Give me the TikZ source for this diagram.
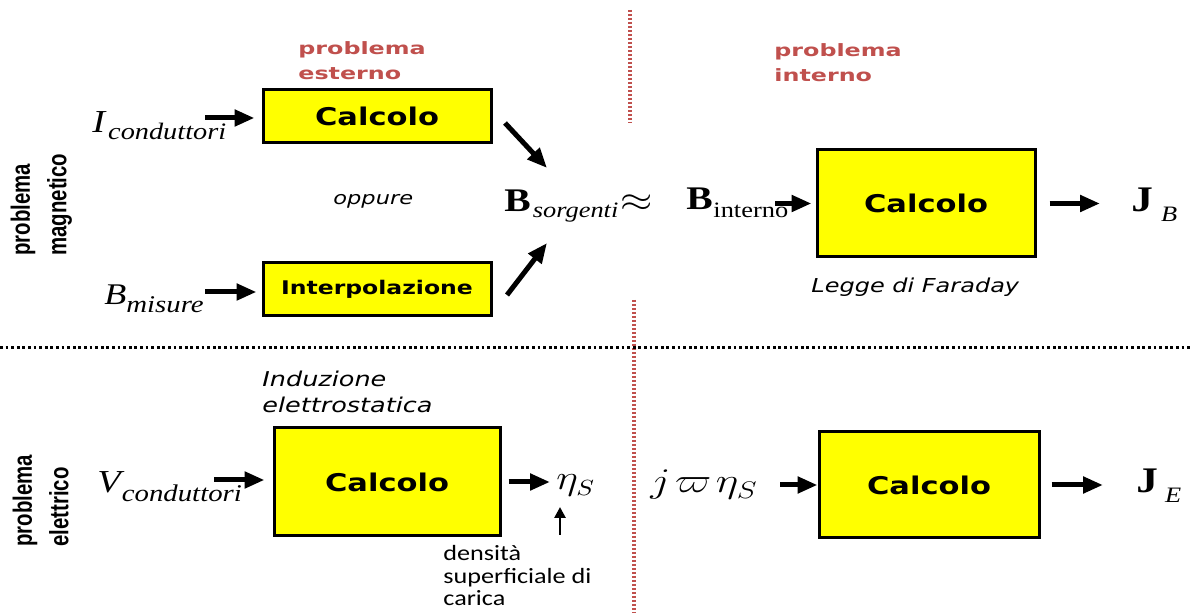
\documentclass[tikz,border=0pt]{standalone}
\usepackage{fontspec}
\usepackage{graphicx}
\newfontfamily\vfont[FakeStretch=1.25]{DejaVu Sans}
\newfontfamily\redfont[FakeStretch=1.4]{DejaVu Sans}
\newfontfamily\tfont[FakeStretch=1.2]{Liberation Serif}
\newfontfamily\cfont[FakeStretch=1.2]{Carlito}
\newfontfamily\nfont{Liberation Sans}
\definecolor{Redcol}{HTML}{C0504D}
\definecolor{Boxcol}{HTML}{FFFF00}
\usetikzlibrary{arrows.meta}
\tikzset{
    >=Stealth,
    box/.style={draw, line width=1.5pt, fill=Boxcol, inner sep=0pt,
        font=\vfont\bfseries\fontsize{12.2}{14}\selectfont},
    fat/.style={line width=2.5pt, -{Triangle[length=10pt,width=8pt]}},
    slim/.style={line width=1.3pt, -{Triangle[length=5.5pt,width=5.5pt]}},
    reddot/.style={Redcol, line width=2.1pt, dash pattern=on 1.1pt off 0.9pt},
    blkdot/.style={black, line width=1.5pt, dash pattern=on 1.4pt off 1.4pt},
    txt/.style={inner sep=0pt, anchor=base west},
    redlbl/.style={inner sep=0pt, anchor=north west, align=left, text=Redcol,
        font=\redfont\bfseries\fontsize{8.5}{12.8}\selectfont},
    sidelbl/.style={inner sep=0pt, anchor=north west, rotate=90,
        font=\nfont\bfseries\fontsize{10.2}{14}\selectfont}
}

\begin{document}
\begin{tikzpicture}[x=0.5pt, y=-0.5pt]
    \useasboundingbox (0,0) rectangle (1192,613);

    % Separators
    \draw[reddot] (630,10) -- (630,123);
    \draw[reddot] (634,300) -- (634,613);
    \draw[blkdot] (0,348) -- (1192,348);

    % Headings
    \node[redlbl] (extlbl) at (298,41) {problema\\esterno};
    \node[redlbl] (intlbl) at (774,43) {problema\\interno};
    \node[sidelbl] (maglbl) at (4,256) {\scalebox{1}[1.3]{\begin{tabular}{@{}l@{}}problema\\magnetico\end{tabular}}};
    \node[sidelbl] (ellbl) at (6,547) {\scalebox{1}[1.3]{\begin{tabular}{@{}l@{}}problema\\elettrico\end{tabular}}};

    % Boxes
    \node[box, minimum width=114pt, minimum height=26.5pt] (calcA) at (377,116.5) {Calcolo};
    \node[box, minimum width=114pt, minimum height=26.5pt,
        font=\vfont\bfseries\fontsize{9.4}{11}\selectfont] (interp) at (377,289.5) {Interpolazione};
    \node[box, minimum width=109pt, minimum height=53.5pt] (calcB) at (926,203.5) {Calcolo};
    \node[box, minimum width=113pt, minimum height=54pt] (calcC) at (387,482) {Calcolo};
    \node[box, minimum width=110pt, minimum height=53pt] (calcD) at (929,485) {Calcolo};

    % Quantities
    \node[txt] (icond) at (92,133) {\tfont\itshape\fontsize{16}{16}\selectfont I\kern1.5pt\raisebox{-3.5pt}{\fontsize{11.8}{12}\selectfont conduttori}};
    \node[txt] (bmis) at (104,305) {\tfont\itshape\fontsize{15}{15}\selectfont B\raisebox{-4pt}{\fontsize{12}{12}\selectfont misure}};
    \node[txt] (bsorg) at (504,212) {\tfont\bfseries\fontsize{16.5}{16}\selectfont B\kern1pt\raisebox{-3pt}{\mdseries\itshape\fontsize{11}{11}\selectfont sorgenti}\kern1pt\scalebox{1.2}[1]{\fontsize{18}{18}\selectfont$\approx$}};
    \node[txt] (bint) at (686,210) {\tfont\bfseries\fontsize{16.5}{16}\selectfont B\kern0.3pt\raisebox{-4pt}{\mdseries\fontsize{11}{11}\selectfont interno}};
    \node[txt] (jb) at (1131,212) {\tfont\bfseries\fontsize{18}{18}\selectfont J\kern4pt\raisebox{-5pt}{\mdseries\itshape\fontsize{11}{11}\selectfont B}};
    \node[txt] (vcond) at (97,493) {\tfont\itshape\fontsize{16}{16}\selectfont V\kern0.5pt\raisebox{-4.5pt}{\fontsize{12}{12}\selectfont conduttori}};
    \node[txt] (etas) at (556,490) {\scalebox{1.2}[1]{\fontsize{16}{16}\selectfont$\eta_S$}};
    \node[txt] (jweta) at (650,493) {\scalebox{1.25}[1]{\fontsize{17}{17}\selectfont$j\mkern2mu\varpi\mkern2mu\eta_S$}};
    \node[txt] (je) at (1136,493) {\tfont\bfseries\fontsize{18}{18}\selectfont J\kern3.5pt\raisebox{-5pt}{\mdseries\itshape\fontsize{11}{11}\selectfont E}};

    % Notes
    \node[txt, font=\vfont\itshape\fontsize{9}{11}\selectfont] (oppure) at (333,205) {oppure};
    \node[txt, font=\vfont\itshape\fontsize{9.6}{11}\selectfont] (faraday) at (811,293) {Legge di Faraday};
    \node[inner sep=0pt, anchor=north west, align=left,
        font=\vfont\itshape\fontsize{10.2}{13}\selectfont] (induz) at (262,371) {Induzione\\elettrostatica};
    \node[inner sep=0pt, anchor=north west, align=left,
        font=\cfont\fontsize{10.9}{11.25}\selectfont] (dens) at (443,545) {densità\\superficiale di\\carica};

    % Arrow ends
    \coordinate (c1) at (205,118);
    \coordinate (c2) at (205,292);
    \coordinate (c3) at (505,123);
    \coordinate (c4) at (547,168);
    \coordinate (c5) at (507,295);
    \coordinate (c6) at (547,243);
    \coordinate (c7) at (775,203.5);
    \coordinate (c8) at (1100,203.5);
    \coordinate (c9) at (214,480);
    \coordinate (c10) at (550,482);
    \coordinate (c11) at (560,535);
    \coordinate (c12) at (560,507);
    \coordinate (c13) at (780,485);
    \coordinate (c14) at (1103,485);

    % Arrows
    \draw[fat, shorten >=3.5pt] (c1) -- (c1 -| calcA.west);
    \draw[fat, shorten >=2.5pt] (c2) -- (c2 -| interp.west);
    \draw[fat] (c3) -- (c4);
    \draw[fat] (c5) -- (c6);
    \draw[fat, shorten >=2pt] (c7) -- (calcB.west);
    \draw[fat, shorten <=6.5pt] (calcB.east) -- (c8);
    \draw[fat, shorten >=4pt] (c9) -- (c9 -| calcC.west);
    \draw[fat, shorten <=3.5pt] (calcC.east |- c10) -- (c10);
    \draw[slim] (c11) -- (c12);
    \draw[fat] (c13) -- (calcD.west);
    \draw[fat, shorten <=5.5pt] (calcD.east) -- (c14);
\end{tikzpicture}
\end{document}
